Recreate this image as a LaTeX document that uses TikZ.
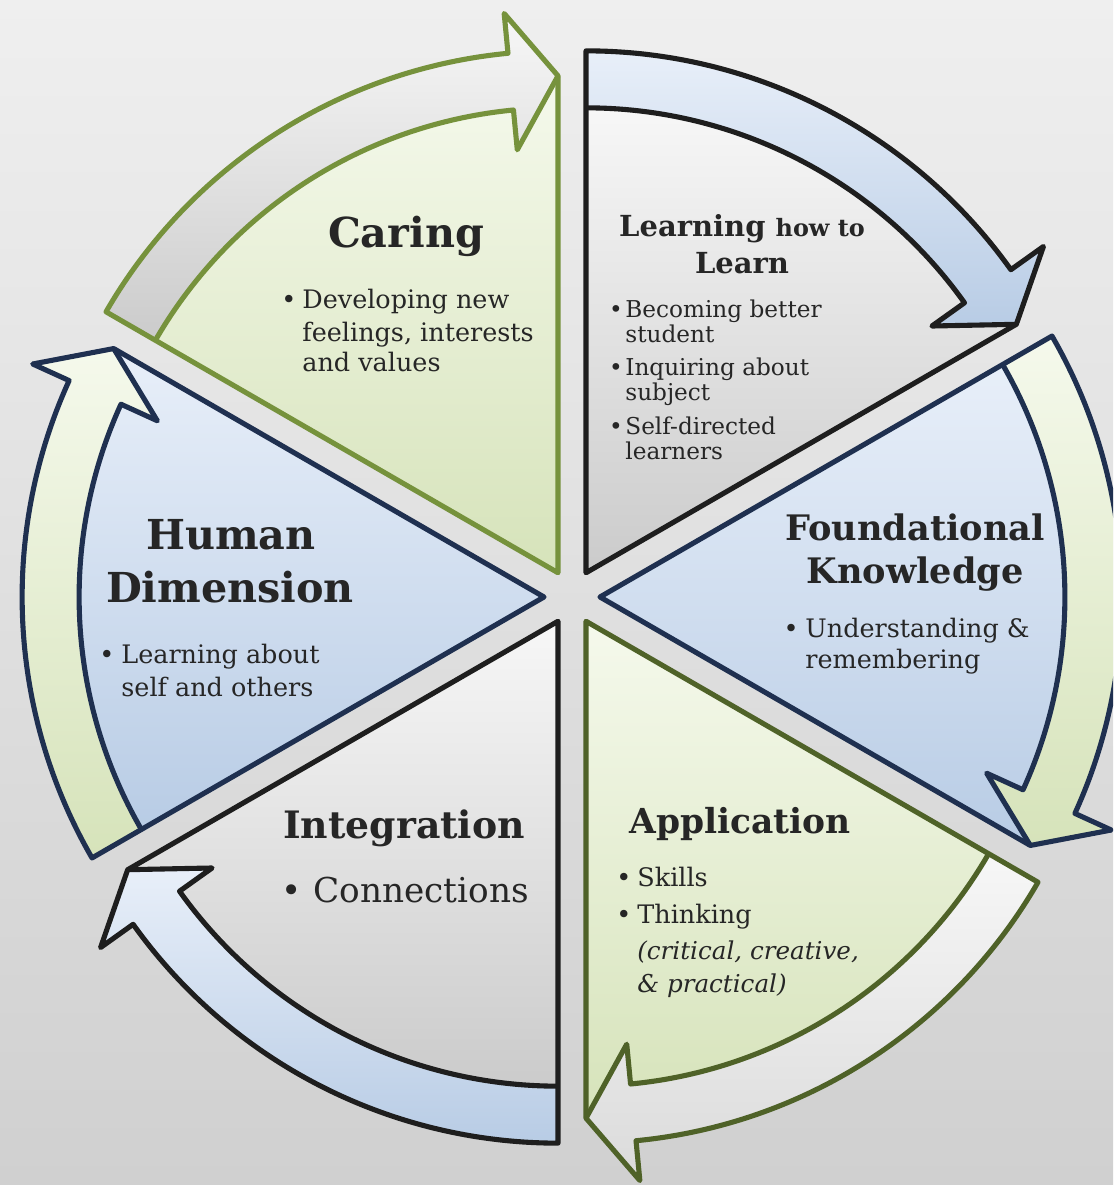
\documentclass[tikz,border=0pt]{standalone}
\usepackage{fontspec}
\setmainfont{DejaVu Serif}
\usetikzlibrary{calc}
\definecolor{bgtop}{RGB}{239,239,239}
\definecolor{bgbot}{RGB}{208,208,208}
\definecolor{grnA}{RGB}{245,249,236}
\definecolor{grnB}{RGB}{214,227,186}
\definecolor{bluA}{RGB}{232,239,249}
\definecolor{bluB}{RGB}{184,204,229}
\definecolor{gryA}{RGB}{247,247,247}
\definecolor{gryB}{RGB}{203,203,203}
\definecolor{olivegrn}{RGB}{118,146,60}
\definecolor{darkgrn}{RGB}{79,98,40}
\definecolor{darkgry}{RGB}{30,30,30}
\definecolor{navy}{RGB}{31,48,80}
\definecolor{txt}{RGB}{38,38,38}

% #1 name, #2 bisector angle, #3/#4 wedge top/bottom colour, #5/#6 band top/bottom colour, #7 border
\newcommand\segment[7]{%
  \pgfmathsetmacro\aA{#2+30}%
  \pgfmathsetmacro\aB{#2-30}%
  \pgfmathsetmacro\aD{#2-24.5}%
  \coordinate (#1) at ($(C)+(#2:0.56cm)$);
  \shade[top color=#3, bottom color=#4]
    (#1) -- ($(#1)+(\aA:9.30cm)$) arc[start angle=\aA, end angle=\aD, radius=9.30cm]
    -- ($(#1)+(\aD:8.50cm)$) -- ($(#1)+(\aB:9.94cm)$) -- cycle;
  \shade[top color=#5, bottom color=#6]
    ($(#1)+(\aA:9.30cm)$) -- ($(#1)+(\aA:10.44cm)$)
    arc[start angle=\aA, end angle=\aD, radius=10.44cm]
    -- ($(#1)+(\aD:11.24cm)$) -- ($(#1)+(\aB:9.94cm)$) -- ($(#1)+(\aD:8.50cm)$)
    -- ($(#1)+(\aD:9.30cm)$) arc[start angle=\aD, end angle=\aA, radius=9.30cm] -- cycle;
  \draw[border, #7]
    (#1) -- ($(#1)+(\aA:10.44cm)$) arc[start angle=\aA, end angle=\aD, radius=10.44cm]
    -- ($(#1)+(\aD:11.24cm)$) -- ($(#1)+(\aB:9.94cm)$) -- cycle;
  \draw[border, #7]
    ($(#1)+(\aA:9.30cm)$) arc[start angle=\aA, end angle=\aD, radius=9.30cm]
    -- ($(#1)+(\aD:8.50cm)$) -- ($(#1)+(\aB:9.94cm)$);
}

\begin{document}
\begin{tikzpicture}[x=0.02cm, y=0.02cm,
  border/.style={line width=2.9pt, line join=round},
  ttl/.style={inner sep=0pt, anchor=base, text=txt, font=\bfseries\fontsize{#1}{#1}\selectfont},
  body/.style={inner sep=0pt, anchor=base west, text=txt, font=\fontsize{#1}{#1}\selectfont},
  ibody/.style={inner sep=0pt, anchor=base west, text=txt, font=\itshape\fontsize{#1}{#1}\selectfont},
  bul/.style={inner sep=0pt, anchor=base, text=txt, font=\fontsize{#1}{#1}\selectfont}]
\useasboundingbox (0,0) rectangle (1113,-1185);
\clip (0,0) rectangle (1113,-1185);
\shade[top color=bgtop, bottom color=bgbot] (0,0) rectangle (1113,-1185);
\coordinate (C) at (572,-597);

\segment{sCar}{120}{grnA}{grnB}{gryA}{gryB}{olivegrn}
\segment{sLea}{60}{gryA}{gryB}{bluA}{bluB}{darkgry}
\segment{sFou}{0}{bluA}{bluB}{grnA}{grnB}{navy}
\segment{sApp}{300}{grnA}{grnB}{gryA}{gryB!70!white}{darkgrn}
\segment{sInt}{240}{gryA}{gryB}{bluA}{bluB}{darkgry}
\segment{sHum}{180}{bluA}{bluB}{grnA}{grnB}{navy}

% Caring
\node[ttl=23.5] (tCar) at (406,-248) {Caring};
\node[bul=14.5] (bCar) at (289,-309) {•};
\node[body=14.5] (car1) at (302,-309) {Developing new};
\node[body=14.5] (car2) at (302,-341) {feelings, interests};
\node[body=14.5] (car3) at (302,-372) {and values};

% Learning how to Learn
\node[ttl=16.5] (tLea) at (742,-237) {Learning {\fontsize{13.6}{13.6}\selectfont how to}};
\node[ttl=16.5] (tLea2) at (742,-274) {Learn};
\node[bul=13.2] (bLea1) at (616,-318) {•};
\node[body=13.2] (lea1) at (625,-318) {Becoming better};
\node[body=13.2] (lea2) at (625,-342) {student};
\node[bul=13.2] (bLea2) at (616,-376) {•};
\node[body=13.2] (lea3) at (625,-376) {Inquiring about};
\node[body=13.2] (lea4) at (625,-400) {subject};
\node[bul=13.2] (bLea3) at (616,-434) {•};
\node[body=13.2] (lea5) at (625,-434) {Self-directed};
\node[body=13.2] (lea6) at (625,-459) {learners};

% Foundational Knowledge
\node[ttl=20] (tFou) at (915,-540) {Foundational};
\node[ttl=20] (tFou2) at (915,-583) {Knowledge};
\node[bul=14.5] (bFou) at (791,-637) {•};
\node[body=14.5] (fou1) at (805,-637) {Understanding \&};
\node[body=14.5] (fou2) at (805,-668) {remembering};

% Human Dimension
\node[ttl=23.5] (tHum) at (231,-549) {Human};
\node[ttl=23.5] (tHum2) at (230,-602) {Dimension};
\node[bul=14.5] (bHum) at (107,-663) {•};
\node[body=14.5] (hum1) at (121,-663) {Learning about};
\node[body=14.5] (hum2) at (121,-696) {self and others};

% Integration
\node[ttl=21.5] (tInt) at (404,-838) {Integration};
\node[bul=19.5] (bInt) at (292,-902) {•};
\node[body=19.5] (int1) at (313,-902) {Connections};

% Application
\node[ttl=19.6] (tApp) at (740,-833) {Application};
\node[bul=14.5] (bApp1) at (624,-886) {•};
\node[body=14.5] (app1) at (637,-886) {Skills};
\node[bul=14.5] (bApp2) at (624,-923) {•};
\node[body=14.5] (app2) at (637,-923) {Thinking};
\node[ibody=14] (app3) at (637,-959) {(critical, creative,};
\node[ibody=14] (app4) at (637,-992) {\& practical)};
\end{tikzpicture}
\end{document}
